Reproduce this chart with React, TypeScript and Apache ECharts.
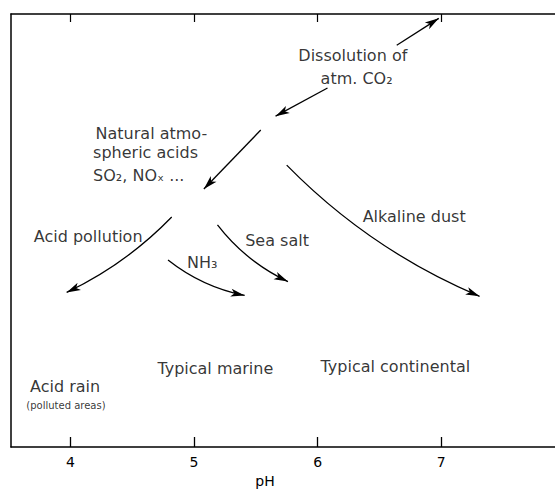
import React, { useEffect, useRef } from "react";
import * as echarts from "echarts";

// x-axis ticks (pH)
const phTicks = [4, 5, 6, 7];

// Process arrows: start / end as [pH, relative level], and their bend
const arrowNames = [
  "Dissolution of atm. CO2 (up)",
  "Dissolution of atm. CO2 (down)",
  "Natural atmospheric acids",
  "Acid pollution",
  "NH3",
  "Sea salt",
  "Alkaline dust",
];
const arrowFrom = [
  [6.64, 9.28],
  [6.08, 8.29],
  [5.54, 7.32],
  [4.82, 5.31],
  [4.79, 4.32],
  [5.19, 5.13],
  [5.75, 6.51],
];
const arrowTo = [
  [6.98, 9.9],
  [5.66, 7.64],
  [5.08, 5.96],
  [3.97, 3.57],
  [5.41, 3.5],
  [5.76, 3.82],
  [7.31, 3.48],
];
const arrowBend = [0, 0, 0, 0.09, -0.12, -0.12, -0.1];

// Annotations: text, left edge pH, relative level
const labelTexts = [
  "Dissolution of",
  "atm. CO₂",
  "Natural atmo-",
  "spheric acids",
  "SO₂, NOₓ ...",
  "Acid pollution",
  "NH₃",
  "Sea salt",
  "Alkaline dust",
  "Typical marine",
  "Typical continental",
  "Acid rain",
  "(polluted areas)",
];
const labelPH = [5.84, 6.02, 4.2, 4.18, 4.18, 3.7, 4.94, 5.41, 6.36, 4.7, 6.02, 3.67, 3.64];
const labelLevel = [9.05, 8.52, 7.25, 6.79, 6.26, 4.85, 4.27, 4.76, 5.33, 1.82, 1.85, 1.39, 0.95];

const INK = "#000000";
const FONT = "DejaVu Sans";

export default function App() {
  const ref = useRef<HTMLDivElement>(null);

  useEffect(() => {
    document.body.style.margin = "0";
    if (!ref.current) return;
    const chart = echarts.init(ref.current, null, { renderer: "svg" });

    const axisCommon = {
      type: "value" as const,
      min: 3.52,
      max: 7.92,
      splitLine: { show: false },
      axisLine: { show: true, onZero: false, lineStyle: { color: INK, width: 1.5 } },
    };

    chart.setOption({
      animation: false,
      backgroundColor: "#ffffff",
      grid: {
        left: 11,
        right: 0,
        top: 14,
        bottom: 42,
        containLabel: false,
        outerBoundsMode: "none",
      },
      xAxis: [
        {
          ...axisCommon,
          position: "bottom",
          axisTick: {
            show: true,
            inside: true,
            length: 10,
            customValues: phTicks,
            lineStyle: { color: INK, width: 1.3 },
          },
          axisLabel: {
            show: true,
            customValues: phTicks,
            margin: 8,
            color: INK,
            fontSize: 14,
            fontFamily: FONT,
          },
          name: "pH",
          nameLocation: "middle",
          nameGap: 24,
          nameTextStyle: { color: INK, fontSize: 14, fontFamily: FONT, padding: [0, 36, 0, 0] },
        },
        {
          ...axisCommon,
          position: "top",
          axisTick: {
            show: true,
            inside: true,
            length: 8,
            customValues: phTicks,
            lineStyle: { color: INK, width: 1.2 },
          },
          axisLabel: { show: false },
        },
      ],
      yAxis: {
        type: "value",
        min: 0,
        max: 10,
        splitLine: { show: false },
        axisLine: { show: true, onZero: false, lineStyle: { color: INK, width: 1.5 } },
        axisTick: { show: false },
        axisLabel: { show: false },
      },
      series: [
        {
          type: "lines",
          coordinateSystem: "cartesian2d",
          xAxisIndex: 0,
          yAxisIndex: 0,
          silent: true,
          polyline: false,
          symbol: ["none", "arrow"],
          symbolSize: [1, [6, 14]],
          lineStyle: { color: INK, width: 1.3, opacity: 1 },
          data: arrowNames.map((n, i) => ({
            name: n,
            coords: [arrowFrom[i], arrowTo[i]],
            lineStyle: { curveness: arrowBend[i] },
          })),
        },
        {
          type: "scatter",
          xAxisIndex: 0,
          yAxisIndex: 0,
          silent: true,
          symbolSize: 1,
          itemStyle: { color: "rgba(0,0,0,0)" },
          label: {
            show: true,
            position: "right",
            distance: 0,
            formatter: "{b}",
            color: INK,
            fontSize: 16,
            fontFamily: FONT,
          },
          data: labelTexts.map((t, i) => ({
            name: t,
            value: [labelPH[i], labelLevel[i]],
            label: t.startsWith("(") ? { fontSize: 10 } : undefined,
          })),
        },
      ],
    });

    return () => chart.dispose();
  }, []);

  return <div ref={ref} style={{ width: 555, height: 489 }} />;
}
